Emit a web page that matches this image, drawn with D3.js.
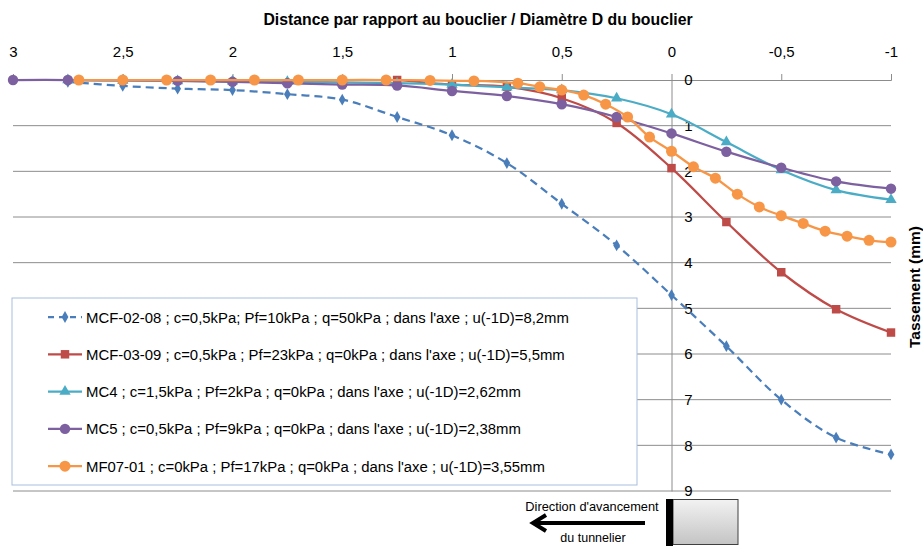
<!DOCTYPE html>
<html>
<head>
<meta charset="utf-8">
<script src="https://cdn.jsdelivr.net/npm/d3@7"></script>
<style>
  body { margin: 0; background: #fff; }
  svg { display: block; font-family: "Liberation Sans", Arial, sans-serif; }
</style>
</head>
<body>
<svg id="chart" width="923" height="546"></svg>
<script>
// distance / D (x) and settlement in mm (y)
const xTicks = [3, 2.5, 2, 1.5, 1, 0.5, 0, -0.5, -1];
const yTicks = [0, 1, 2, 3, 4, 5, 6, 7, 8, 9];

const mcf0208X = [2.75, 2.5, 2.25, 2, 1.75, 1.5, 1.25, 1, 0.75, 0.5, 0.25, 0, -0.25, -0.5, -0.75, -1];
const mcf0208Y = [0.04, 0.13, 0.19, 0.22, 0.31, 0.43, 0.81, 1.21, 1.82, 2.71, 3.62, 4.71, 5.83, 7.0, 7.83, 8.2];

const mcf0309X = [1.25, 1, 0.75, 0.5, 0.25, 0, -0.25, -0.5, -0.75, -1];
const mcf0309Y = [0, 0.1, 0.15, 0.4, 0.94, 1.93, 3.11, 4.21, 5.02, 5.53];

const mc4X = [2.75, 2.5, 2.25, 2, 1.75, 1.5, 1.25, 1, 0.75, 0.5, 0.25, 0, -0.25, -0.5, -0.75, -1];
const mc4Y = [0, 0.01, 0.02, 0.03, 0.04, 0.05, 0.07, 0.1, 0.16, 0.22, 0.4, 0.75, 1.36, 1.97, 2.41, 2.62];

const mc5X = [3, 2.75, 2.5, 2.25, 2, 1.75, 1.5, 1.25, 1, 0.75, 0.5, 0.25, 0, -0.25, -0.5, -0.75, -1];
const mc5Y = [0, 0, 0.01, 0.02, 0.04, 0.07, 0.1, 0.12, 0.24, 0.35, 0.53, 0.81, 1.17, 1.57, 1.92, 2.22, 2.38];

const mf0701X = [2.7, 2.5, 2.3, 2.1, 1.9, 1.7, 1.5, 1.3, 1.1, 0.9, 0.7, 0.6, 0.5, 0.4, 0.3, 0.2, 0.1, 0,
                 -0.1, -0.2, -0.3, -0.4, -0.5, -0.6, -0.7, -0.8, -0.9, -1];
const mf0701Y = [0, 0, 0, 0, 0, 0, 0, 0, 0.01, 0.02, 0.07, 0.15, 0.22, 0.33, 0.53, 0.81, 1.25, 1.56,
                 1.9, 2.15, 2.5, 2.78, 2.97, 3.14, 3.31, 3.42, 3.51, 3.55];

const seriesNames = [
  "MCF-02-08 ; c=0,5kPa; Pf=10kPa ; q=50kPa ; dans l'axe ; u(-1D)=8,2mm",
  "MCF-03-09 ; c=0,5kPa ; Pf=23kPa ; q=0kPa ; dans l'axe ; u(-1D)=5,5mm",
  "MC4 ; c=1,5kPa ; Pf=2kPa ; q=0kPa ; dans l'axe ; u(-1D)=2,62mm",
  "MC5 ; c=0,5kPa ; Pf=9kPa ; q=0kPa ; dans l'axe ; u(-1D)=2,38mm",
  "MF07-01 ; c=0kPa ; Pf=17kPa ; q=0kPa ; dans l'axe ; u(-1D)=3,55mm"
];

const styles = [
  { color: "#4a7ebb", marker: d3.symbolDiamond, size: 40, dash: "8,5" },
  { color: "#be4b48", marker: d3.symbolSquare, size: 72, dash: null },
  { color: "#4bacc6", marker: d3.symbolTriangle, size: 55, dash: null },
  { color: "#7d60a0", marker: d3.symbolCircle, size: 85, dash: null },
  { color: "#f79646", marker: d3.symbolCircle, size: 95, dash: null }
];

const series = [
  [mcf0208X, mcf0208Y], [mcf0309X, mcf0309Y], [mc4X, mc4Y], [mc5X, mc5Y], [mf0701X, mf0701Y]
].map(([xs, ys], i) => ({
  name: seriesNames[i],
  style: styles[i],
  points: xs.map((x, j) => ({ x: x, y: ys[j] }))
}));

const svg = d3.select("#chart");
const fr = d3.formatLocale({ decimal: ",", thousands: " ", grouping: [3], currency: ["", "€"], minus: "-" });
const fmt = fr.format("~g");

const x = d3.scaleLinear().domain([3, -1]).range([13, 891]);
const y = d3.scaleLinear().domain([0, 9]).range([80, 491]);

// horizontal gridlines
svg.append("g")
  .selectAll("line")
  .data(yTicks.slice(1))
  .join("line")
  .attr("x1", x(3)).attr("x2", x(-1))
  .attr("y1", d => y(d)).attr("y2", d => y(d))
  .attr("stroke", "#8c8c8c").attr("stroke-width", 1);

// top axis (crosses at y = 0)
const xAxis = svg.append("g")
  .attr("transform", `translate(0,${y(0)})`)
  .call(d3.axisTop(x).tickValues(xTicks).tickFormat(fmt).tickSize(6).tickPadding(17));
xAxis.select(".domain").attr("stroke", "#8c8c8c");
xAxis.selectAll(".tick line").attr("stroke", "#8c8c8c");
xAxis.selectAll(".tick text")
  .attr("font-size", 15).attr("fill", "#000")
  .attr("font-family", "Liberation Sans, Arial, sans-serif");

// vertical axis at x = 0
const yAxis = svg.append("g")
  .attr("transform", `translate(${x(0)},0)`)
  .call(d3.axisRight(y).tickValues(yTicks).tickFormat(fmt).tickSize(0).tickPadding(17));
yAxis.select(".domain").attr("stroke", "#8c8c8c");
yAxis.selectAll(".tick text")
  .attr("font-size", 15).attr("fill", "#000")
  .attr("text-anchor", "middle")
  .attr("font-family", "Liberation Sans, Arial, sans-serif");

// axis titles
svg.append("text")
  .attr("x", 478).attr("y", 25)
  .attr("text-anchor", "middle")
  .attr("font-size", 15.8).attr("font-weight", "bold")
  .text("Distance par rapport au bouclier / Diamètre D du bouclier");

svg.append("text")
  .attr("transform", "translate(920,287) rotate(-90)")
  .attr("text-anchor", "middle")
  .attr("font-size", 15.5).attr("font-weight", "bold")
  .text("Tassement (mm)");

// legend box (behind the curves, over the gridlines)
const legend = svg.append("g");
legend.append("rect")
  .attr("x", 12).attr("y", 298).attr("width", 625).attr("height", 187)
  .attr("fill", "#fff").attr("stroke", "#a7bfdd");

// curves
const line = d3.line()
  .x(d => x(d.x)).y(d => y(d.y))
  .curve(d3.curveCatmullRom.alpha(0.5));

const sg = svg.append("g").selectAll("g").data(series).join("g");
sg.append("path")
  .attr("d", d => line(d.points))
  .attr("fill", "none")
  .attr("stroke", d => d.style.color)
  .attr("stroke-width", 2.25)
  .attr("stroke-dasharray", d => d.style.dash);
sg.selectAll(".m")
  .data(d => d.points.map(p => ({ p: p, s: d.style })))
  .join("path")
  .attr("class", "m")
  .attr("transform", d => `translate(${x(d.p.x)},${y(d.p.y)})`)
  .attr("d", d => d3.symbol(d.s.marker, d.s.size)())
  .attr("fill", d => d.s.color);

// legend entries
const le = legend.selectAll(".entry").data(series).join("g")
  .attr("class", "entry")
  .attr("transform", (d, i) => `translate(0,${317 + i * 37.3})`);
le.append("line")
  .attr("x1", 48).attr("x2", 82)
  .attr("stroke", d => d.style.color).attr("stroke-width", 2.25)
  .attr("stroke-dasharray", d => d.style.dash ? "6,5" : null);
le.append("path")
  .attr("transform", "translate(65,0)")
  .attr("d", d => d3.symbol(d.style.marker, d.style.size)())
  .attr("fill", d => d.style.color);
le.append("text")
  .attr("x", 86).attr("y", 5.5)
  .attr("font-size", 14.9).attr("fill", "#000")
  .text(d => d.name);

// tunnel direction sketch
const icon = svg.append("g");
icon.append("text")
  .attr("x", 592).attr("y", 511)
  .attr("text-anchor", "middle").attr("font-size", 12.8)
  .text("Direction d'avancement");
icon.append("text")
  .attr("x", 593).attr("y", 542)
  .attr("text-anchor", "middle").attr("font-size", 12.5)
  .text("du tunnelier");
icon.append("line")
  .attr("x1", 645).attr("x2", 536).attr("y1", 523).attr("y2", 523)
  .attr("stroke", "#000").attr("stroke-width", 4);
icon.append("path")
  .attr("d", "M546,515 L533,523 L546,531")
  .attr("fill", "none").attr("stroke", "#000").attr("stroke-width", 4);
const grad = svg.append("defs").append("linearGradient")
  .attr("id", "shield").attr("x1", 0).attr("x2", 0).attr("y1", 0).attr("y2", 1);
grad.append("stop").attr("offset", "0%").attr("stop-color", "#f2f2f2");
grad.append("stop").attr("offset", "100%").attr("stop-color", "#c4c4c4");
icon.append("rect")
  .attr("x", 673).attr("y", 499.5).attr("width", 65).attr("height", 45)
  .attr("fill", "url(#shield)").attr("stroke", "#404040");
icon.append("rect")
  .attr("x", 666).attr("y", 499).attr("width", 7).attr("height", 47)
  .attr("fill", "#000");
</script>
</body>
</html>
